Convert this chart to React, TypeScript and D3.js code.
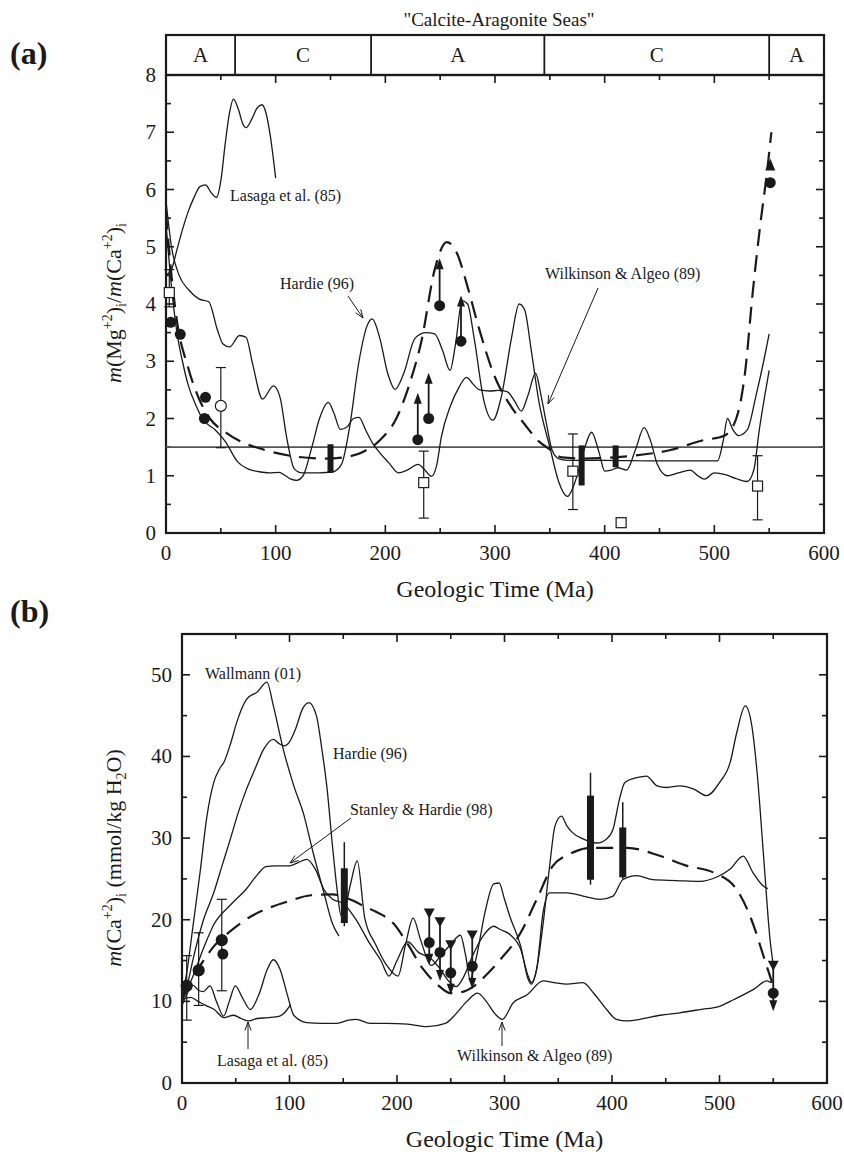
import React from "react";
import * as d3 from "d3";

// ---------- Panel (a): Mg/Ca ratio ----------
const seaBoundaries = [0, 63, 187, 345, 550, 600];
const seaLabels = ["A", "C", "A", "C", "A"];

const aLasaga: [number, number][] = [[0,4.5],[5,4.6],[10,4.95],[15,5.3],[20,5.6],[26,5.88],[31,6.05],[36,6.08],[41,5.95],[46,5.86],[50,6.15],[54,6.8],[58,7.35],[61.5,7.58],[66,7.4],[70,7.15],[73,7.08],[78,7.22],[83,7.42],[87.5,7.48],[91,7.35],[95,6.95],[100,6.2]];
const aHardie: [number, number][] = [[0,5.8],[5,5.0],[12,4.5],[21,4.24],[30,4.09],[39,4.04],[47,3.54],[52,3.3],[58,3.25],[67,3.45],[73,3.42],[79,2.95],[88,2.34],[98,2.57],[104,2.37],[110,1.67],[117,1.12],[124,1.05],[140,1.05],[152,1.07],[160,1.2],[167,1.8],[176,3.0],[183,3.6],[188,3.74],[195,3.4],[202,2.8],[209,2.51],[217,2.8],[227,3.4],[237,3.5],[245,3.48],[252,3.2],[259,2.84],[264,3.3],[270,4.06],[275,4.0],[281,3.4],[290,2.3],[298,1.97],[306,2.4],[315,3.4],[322,4.0],[327,3.9],[333,3.2],[340,2.3],[350,1.5],[358,0.9],[366,0.64],[374,0.95],[382,1.5],[388,1.76],[395,1.4],[400,1.08],[406,1.1],[412,1.14],[420,1.1],[428,1.45],[436,1.84],[442,1.6],[448,1.2],[457,1.0],[467,1.05],[478,1.1],[485,1.0],[491,0.94],[500,1.05],[510,1.02],[520,0.95],[530,0.9],[536,1.1],[541,1.8],[546,2.4],[550,2.84]];
const aWilkinson: [number, number][] = [[0,5.4],[5,4.3],[10,3.5],[15,3.0],[20,2.6],[28,2.2],[33,2.0],[45,1.8],[54,1.6],[65,1.25],[76,1.11],[85,1.07],[94,1.05],[103,1.06],[109,1.0],[114,0.94],[119,0.92],[125,1.0],[133,1.5],[140,2.0],[148,2.28],[153,2.1],[159,1.81],[165,1.85],[171,2.0],[176,2.02],[182,1.8],[188,1.58],[195,1.4],[203,1.23],[212,1.05],[220,1.1],[230,1.2],[236,1.1],[242,0.99],[247,1.2],[251,1.67],[259,2.2],[267,2.54],[274,2.72],[280,2.6],[286,2.5],[295,2.48],[303,2.49],[311,2.47],[318,2.3],[324,2.13],[330,2.4],[337,2.79],[342,2.4],[347,1.9],[352,1.45],[358,1.3],[366,1.27],[400,1.27],[450,1.26],[503,1.26],[508,1.6],[512,2.0],[517,1.8],[522,1.7],[530,1.8],[538,2.4],[545,3.0],[550,3.48]];
const aDashed: [number, number][] = [[0,5.6],[5,4.5],[10,3.7],[20,2.9],[30,2.35],[40,2.0],[55,1.75],[70,1.58],[85,1.48],[100,1.4],[120,1.33],[145,1.3],[165,1.33],[180,1.42],[195,1.62],[210,2.0],[222,2.6],[233,3.36],[245,4.6],[256,5.08],[265,4.9],[275,4.3],[285,3.6],[300,2.72],[315,2.2],[327,1.9],[340,1.6],[350,1.46],[361,1.32],[380,1.3],[420,1.34],[460,1.45],[490,1.62],[509,1.7],[520,2.0],[528,2.8],[535,4.2],[542,5.4],[548,6.3],[552,7.0]];
const aRefLevel = 1.5;

const aFilledCircles: [number, number][] = [[4.3,3.68],[13,3.47],[36,2.37],[35,2.0],[551,6.12]];
const aArrowCircles: [number, number, number][] = [[229.6,1.63,2.45],[239.5,2.0,2.8],[249.5,3.97,4.8],[269,3.35,4.15]];
const aUpTriangles: [number, number][] = [[551,6.42]];
const aOpenCircles: [number, number, number, number][] = [[50,2.22,1.49,2.89]];
const aOpenSquares: [number, number, number | null, number | null][] = [[3,4.2,3.95,4.6],[235,0.88,0.26,1.43],[371,1.08,0.41,1.73],[415,0.18,null,null],[539.4,0.82,0.23,1.35]];
const aBars: [number, number, number][] = [[150,1.05,1.55],[379,0.83,1.53],[410,1.15,1.53]];
const aYTicks = [0,1,2,3,4,5,6,7,8];

// ---------- Panel (b): Ca concentration ----------
const bWallmann: [number, number][] = [[0,10.5],[5,14],[10,19],[17,26],[23,32.5],[29.5,36.8],[35,38.5],[39,39.3],[45,41.5],[51,44.2],[56,46],[60,47],[70,47.9],[79,49.1],[85,46.2],[94,41],[104,36.4],[113,33],[122,28.2],[132,23.3],[140,19.5],[146,18]];
const bHardie: [number, number][] = [[0,10],[5,12],[10,15],[20,20],[29.5,23.3],[37,26.5],[45,29.9],[52,33],[60,36],[68,38.5],[76,40.9],[85,42.1],[90,41.6],[95,41.3],[100,41.8],[106,43.5],[112,45.8],[118,46.6],[125,45],[130,41],[135,36],[140,29],[144,24],[148,20.5],[152,21.5],[157,24.5],[163,27.2],[170,20.2],[180,17],[190,14.5],[201,13.1],[208,17],[215,20.2],[222,17.5],[232,14.4],[240,15.5],[250,17],[259,18.1],[264,15.5],[268,12.7],[274,15.5],[282,21],[290,24.4],[295,24.5],[300,22.5],[305,20.4],[315,16.8],[322,12.7],[325,12.1],[330,14],[336,19.6],[342,26.6],[347,31.5],[353,32.7],[358,31.5],[363,30.7],[373,29.9],[386,29.4],[395,29.9],[401,31.1],[407,34.8],[412,36.8],[423,37.4],[432,37.6],[442,36.4],[451,36.2],[463,36.4],[476,36],[488,35.2],[500,36.8],[510,39.3],[516,42.9],[524,46.2],[530,43.8],[535,38],[541,27.8],[547,17.6],[550,14.5]];
const bStanley: [number, number][] = [[0,10],[5,11.5],[10,13],[20,16.5],[30,19.5],[45,21.8],[60,23.8],[70,25.5],[78,26.5],[87,26.6],[100,26.6],[108,27],[116,27.4],[124,26.2],[132,23.7],[140,22.5],[150,22],[161,20.2],[175,17],[185,15],[192.6,13.1],[200,15],[210,17.3],[220,16],[232,15.2],[240,14],[248,12.5],[255,11.8],[262,13],[270,15.5],[280,18],[290,19.2],[296,18.8],[305,18.2],[315,16.4],[322,13.1],[325,12.3],[330,14],[336,21],[342,23.3],[358,23.3],[373,22.9],[389,22.5],[401,22.9],[410,24.9],[423,25.4],[438,24.9],[460,24.8],[482,24.7],[497,25.2],[510,26.2],[522,27.8],[531,25.8],[541,24.1],[545,23.8]];
const bLasaga: [number, number][] = [[0,10.2],[8,10.5],[15,10],[22,9.5],[30,9.0],[39,8.0],[48,8.3],[55,7.9],[62,7.6],[70,7.9],[80,8.0],[91,8.2],[96,8.7],[101,9.6]];
const bWilkinson: [number, number][] = [[0,9.5],[5,11],[10,12],[15,11.4],[20,11.2],[26,11.9],[32,10],[38.7,8.2],[44,10],[49.6,11.9],[56,10.5],[63.5,9],[72,11],[79,13.8],[85,15.1],[91,14],[98,10.8],[104,8.3],[116,7.4],[130,7.3],[144,7.3],[155,7.7],[162,7.8],[175,7.3],[190,7.3],[210,7.2],[228,6.9],[245,7.3],[255,8.5],[265,10],[275,11],[283,10],[291,8.5],[298,7.8],[308,9.8],[321,10.8],[336,12.5],[346,12.3],[358,12.1],[373,12.3],[383,11],[395,9],[404,7.8],[414,7.6],[426,7.8],[445,8.3],[463,8.6],[482,9],[500,9.4],[513,10.2],[532,11.5],[544,12.5],[548,12.3]];
const bDashed: [number, number][] = [[0,10.5],[10,13],[20,15],[30,16.8],[45,18.6],[64,20.4],[80,21.4],[100,22.3],[120,23],[140,23.1],[150,22.8],[160,22.3],[170,21.6],[180,21],[197,19.5],[210,17],[224,14],[238,12],[250,11],[262,11.2],[272,11.9],[285,13.5],[296,15.1],[315,18.4],[330,22.5],[345,26.6],[360,28],[380,28.8],[414,28.8],[445,27.8],[470,26.6],[494,25.8],[516,23.7],[532,19.2],[541,15.5],[549,12.3]];

const bErrCircles: [number, number, number, number][] = [[4.4,11.9,7.7,15.6],[15.5,13.8,9.5,18.4],[37,17.5,11.3,22.5]];
const bExtraCircles: [number, number][] = [[38,15.8]];
const bTriArrows: [number, number, number, number][] = [[230,20.9,17.2,14.5],[240,19.8,16,12.5],[250,17,13.5,10.8],[270,18.2,14.3,11.5],[550,14.5,11,8.8]];
const bBars: [number, number, number, number, number][] = [[151,19.2,29.5,19.6,26.3],[380,24.3,38,24.9,35.2],[410,25,34.4,25.2,31.3]];
const bYTicks = [0,10,20,30,40,50];
const xTicks = [0,100,200,300,400,500,600];

const FONT = "Liberation Serif, serif";
const INK = "#1a1a1a";

type Scale = d3.ScaleLinear<number, number>;

function Frame({ x, y, yMinor, yTicks }: { x: Scale; y: Scale; yMinor: number; yTicks: number[] }) {
  const [l, r] = x.range();
  const [b, t] = y.range();
  const xMinor = d3.range(0, 601, 50);
  const yDom = y.domain();
  const yMinorVals = d3.range(yDom[0], yDom[1] + 0.0001, yMinor);
  return (
    <g>
      <rect x={l} y={t} width={r - l} height={b - t} fill="none" stroke={INK} strokeWidth={2.2} />
      {xMinor.map((v) => {
        const major = v % 100 === 0;
        const len = major ? 8 : 5;
        return (
          <g key={"xt" + v}>
            <line x1={x(v)} x2={x(v)} y1={b} y2={b - len} stroke={INK} strokeWidth={1.6} />
            <line x1={x(v)} x2={x(v)} y1={t} y2={t + len} stroke={INK} strokeWidth={1.6} />
          </g>
        );
      })}
      {yMinorVals.map((v, i) => {
        const major = yTicks.some((m) => Math.abs(m - v) < 1e-6);
        const len = major ? 8 : 5;
        return (
          <g key={"yt" + i}>
            <line x1={l} x2={l + len} y1={y(v)} y2={y(v)} stroke={INK} strokeWidth={1.6} />
            <line x1={r} x2={r - len} y1={y(v)} y2={y(v)} stroke={INK} strokeWidth={1.6} />
          </g>
        );
      })}
      {xTicks.map((v) => (
        <text key={"xl" + v} x={x(v)} y={b + 27} textAnchor="middle" fontSize={21} fontFamily={FONT} fill={INK}>
          {v}
        </text>
      ))}
      {yTicks.map((v) => (
        <text key={"yl" + v} x={l - 10} y={y(v) + 7} textAnchor="end" fontSize={21} fontFamily={FONT} fill={INK}>
          {v}
        </text>
      ))}
      <text x={(l + r) / 2} y={b + 64} textAnchor="middle" fontSize={24} fontFamily={FONT} fill={INK}>
        Geologic Time (Ma)
      </text>
    </g>
  );
}

function Curve({ data, x, y, dashed }: { data: [number, number][]; x: Scale; y: Scale; dashed?: boolean }) {
  const gen = d3
    .line<[number, number]>()
    .x((d) => x(d[0]))
    .y((d) => y(d[1]))
    .curve(d3.curveMonotoneX);
  return (
    <path
      d={gen(data) || ""}
      fill="none"
      stroke={INK}
      strokeWidth={dashed ? 2.2 : 1.3}
      strokeDasharray={dashed ? "17,9" : undefined}
      strokeLinejoin="round"
    />
  );
}

function Annot({ tx, ty, text, ax1, ay1, ax2, ay2 }: { tx: number; ty: number; text: string; ax1?: number; ay1?: number; ax2?: number; ay2?: number }) {
  let arrow = null;
  if (ax1 !== undefined && ay1 !== undefined && ax2 !== undefined && ay2 !== undefined) {
    const ang = Math.atan2(ay2 - ay1, ax2 - ax1);
    const h = 9;
    const s = 0.35;
    const p1 = [ax2 - h * Math.cos(ang - s), ay2 - h * Math.sin(ang - s)];
    const p2 = [ax2 - h * Math.cos(ang + s), ay2 - h * Math.sin(ang + s)];
    arrow = (
      <g stroke={INK} strokeWidth={1} fill="none">
        <line x1={ax1} y1={ay1} x2={ax2} y2={ay2} />
        <polyline points={`${p1[0]},${p1[1]} ${ax2},${ay2} ${p2[0]},${p2[1]}`} />
      </g>
    );
  }
  return (
    <g>
      <text x={tx} y={ty} fontSize={16} fontFamily={FONT} fill={INK}>
        {text}
      </text>
      {arrow}
    </g>
  );
}

export default function App() {
  const xA = d3.scaleLinear().domain([0, 600]).range([166, 824]);
  const yA = d3.scaleLinear().domain([0, 8]).range([533, 75]);
  const xB = d3.scaleLinear().domain([0, 600]).range([182, 827]);
  const yB = d3.scaleLinear().domain([0, 55]).range([1083, 634]);
  const bandTop = 35;
  const bandBot = 75;

  return (
    <svg
      width={844}
      height={1156}
      viewBox="0 0 844 1156"
      style={{ position: "absolute", left: 0, top: 0, background: "#fff" }}
    >
      <rect x={0} y={0} width={844} height={1156} fill="#fff" />

      {/* ---------------- Panel (a) ---------------- */}
      <text x={10} y={64} fontSize={32} fontWeight="bold" fontFamily={FONT} fill={INK}>(a)</text>
      <text x={499} y={26} textAnchor="middle" fontSize={19} fontFamily={FONT} fill={INK}>"Calcite-Aragonite Seas"</text>
      <rect x={xA(0)} y={bandTop} width={xA(600) - xA(0)} height={bandBot - bandTop} fill="none" stroke={INK} strokeWidth={2.2} />
      {seaBoundaries.slice(1, -1).map((v) => (
        <line key={"sb" + v} x1={xA(v)} x2={xA(v)} y1={bandTop} y2={bandBot} stroke={INK} strokeWidth={1.8} />
      ))}
      {seaLabels.map((lab, i) => (
        <text key={"sl" + i} x={(xA(seaBoundaries[i]) + xA(seaBoundaries[i + 1])) / 2} y={62} textAnchor="middle" fontSize={21} fontFamily={FONT} fill={INK}>
          {lab}
        </text>
      ))}

      <Frame x={xA} y={yA} yMinor={0.5} yTicks={aYTicks} />

      <line x1={xA(0)} x2={xA(600)} y1={yA(aRefLevel)} y2={yA(aRefLevel)} stroke="#555" strokeWidth={1.6} />
      <Curve data={aLasaga} x={xA} y={yA} />
      <Curve data={aHardie} x={xA} y={yA} />
      <Curve data={aWilkinson} x={xA} y={yA} />
      <Curve data={aDashed} x={xA} y={yA} dashed />

      {aBars.map(([m, lo, hi], i) => (
        <rect key={"ab" + i} x={xA(m) - 3} y={yA(hi)} width={6} height={yA(lo) - yA(hi)} fill={INK} />
      ))}
      {aOpenCircles.map(([m, v, lo, hi], i) => (
        <g key={"aoc" + i} stroke={INK} strokeWidth={1.2}>
          <line x1={xA(m)} x2={xA(m)} y1={yA(hi)} y2={yA(lo)} />
          <line x1={xA(m) - 5} x2={xA(m) + 5} y1={yA(hi)} y2={yA(hi)} />
          <line x1={xA(m) - 5} x2={xA(m) + 5} y1={yA(lo)} y2={yA(lo)} />
          <circle cx={xA(m)} cy={yA(v)} r={5.5} fill="#fff" />
        </g>
      ))}
      {aOpenSquares.map(([m, v, lo, hi], i) => (
        <g key={"aos" + i} stroke={INK} strokeWidth={1.2}>
          {lo !== null && hi !== null && (
            <g>
              <line x1={xA(m)} x2={xA(m)} y1={yA(hi)} y2={yA(lo)} />
              <line x1={xA(m) - 5} x2={xA(m) + 5} y1={yA(hi)} y2={yA(hi)} />
              <line x1={xA(m) - 5} x2={xA(m) + 5} y1={yA(lo)} y2={yA(lo)} />
            </g>
          )}
          <rect x={xA(m) - 5} y={yA(v) - 5} width={10} height={10} fill="#fff" />
        </g>
      ))}
      {aArrowCircles.map(([m, v, top], i) => (
        <g key={"aac" + i}>
          <line x1={xA(m)} x2={xA(m)} y1={yA(v)} y2={yA(top) + 8} stroke={INK} strokeWidth={1.8} />
          <path d={`M${xA(m)},${yA(top)} L${xA(m) - 4},${yA(top) + 11} L${xA(m) + 4},${yA(top) + 11} Z`} fill={INK} />
          <circle cx={xA(m)} cy={yA(v)} r={5.5} fill={INK} />
        </g>
      ))}
      {aUpTriangles.map(([m, v], i) => (
        <path key={"aut" + i} d={`M${xA(m)},${yA(v) - 7} L${xA(m) - 5},${yA(v) + 5} L${xA(m) + 5},${yA(v) + 5} Z`} fill={INK} />
      ))}
      {aFilledCircles.map(([m, v], i) => (
        <circle key={"afc" + i} cx={xA(m)} cy={yA(v)} r={5.5} fill={INK} />
      ))}

      <Annot tx={230} ty={201} text="Lasaga et al. (85)" />
      <Annot tx={280} ty={289} text="Hardie (96)" ax1={348} ay1={296} ax2={363} ay2={318} />
      <Annot tx={545} ty={279} text="Wilkinson & Algeo (89)" ax1={598} ay1={288} ax2={548} ay2={404} />

      <text transform="translate(121,303) rotate(-90)" textAnchor="middle" fontSize={22} fontFamily={FONT} fill={INK}>
        <tspan fontStyle="italic">m</tspan>
        <tspan>(Mg</tspan>
        <tspan dy={-9} fontSize={14}>+2</tspan>
        <tspan dy={9}>)</tspan>
        <tspan dy={5} fontSize={14}>i</tspan>
        <tspan dy={-5}>/</tspan>
        <tspan fontStyle="italic">m</tspan>
        <tspan>(Ca</tspan>
        <tspan dy={-9} fontSize={14}>+2</tspan>
        <tspan dy={9}>)</tspan>
        <tspan dy={5} fontSize={14}>i</tspan>
      </text>

      {/* ---------------- Panel (b) ---------------- */}
      <text x={10} y={622} fontSize={32} fontWeight="bold" fontFamily={FONT} fill={INK}>(b)</text>
      <Frame x={xB} y={yB} yMinor={5} yTicks={bYTicks} />

      <Curve data={bWallmann} x={xB} y={yB} />
      <Curve data={bHardie} x={xB} y={yB} />
      <Curve data={bStanley} x={xB} y={yB} />
      <Curve data={bLasaga} x={xB} y={yB} />
      <Curve data={bWilkinson} x={xB} y={yB} />
      <Curve data={bDashed} x={xB} y={yB} dashed />

      {bBars.map(([m, tlo, thi, klo, khi], i) => (
        <g key={"bb" + i}>
          <line x1={xB(m)} x2={xB(m)} y1={yB(thi)} y2={yB(tlo)} stroke={INK} strokeWidth={1.5} />
          <rect x={xB(m) - 3.5} y={yB(khi)} width={7} height={yB(klo) - yB(khi)} fill={INK} />
        </g>
      ))}
      {bErrCircles.map(([m, v, lo, hi], i) => (
        <g key={"bec" + i} stroke={INK} strokeWidth={1.2}>
          <line x1={xB(m)} x2={xB(m)} y1={yB(hi)} y2={yB(lo)} />
          <line x1={xB(m) - 5} x2={xB(m) + 5} y1={yB(hi)} y2={yB(hi)} />
          <line x1={xB(m) - 5} x2={xB(m) + 5} y1={yB(lo)} y2={yB(lo)} />
          <circle cx={xB(m)} cy={yB(v)} r={5.5} fill={INK} />
        </g>
      ))}
      {bExtraCircles.map(([m, v], i) => (
        <circle key={"bxc" + i} cx={xB(m)} cy={yB(v)} r={5.5} fill={INK} />
      ))}
      {bTriArrows.map(([m, hi, mid, lo], i) => (
        <g key={"bta" + i}>
          <line x1={xB(m)} x2={xB(m)} y1={yB(hi)} y2={yB(lo) - 6} stroke={INK} strokeWidth={1.8} />
          <path d={`M${xB(m) - 5.5},${yB(hi) - 4} L${xB(m) + 5.5},${yB(hi) - 4} L${xB(m)},${yB(hi) + 6} Z`} fill={INK} />
          <path d={`M${xB(m)},${yB(lo)} L${xB(m) - 4},${yB(lo) - 11} L${xB(m) + 4},${yB(lo) - 11} Z`} fill={INK} />
          <circle cx={xB(m)} cy={yB(mid)} r={5.5} fill={INK} />
        </g>
      ))}

      <Annot tx={205} ty={679} text="Wallmann (01)" />
      <Annot tx={333} ty={759} text="Hardie (96)" />
      <Annot tx={350} ty={815} text="Stanley & Hardie (98)" ax1={351} ay1={818} ax2={290} ay2={863} />
      <Annot tx={217} ty={1066} text="Lasaga et al. (85)" ax1={248} ay1={1049} ax2={248} ay2={1022} />
      <Annot tx={457} ty={1061} text="Wilkinson & Algeo (89)" ax1={502} ay1={1046} ax2={502} ay2={1022} />

      <text transform="translate(121,858) rotate(-90)" textAnchor="middle" fontSize={22} fontFamily={FONT} fill={INK}>
        <tspan fontStyle="italic">m</tspan>
        <tspan>(Ca</tspan>
        <tspan dy={-9} fontSize={14}>+2</tspan>
        <tspan dy={9}>)</tspan>
        <tspan dy={5} fontSize={14}>i</tspan>
        <tspan dy={-5}> (mmol/kg H</tspan>
        <tspan dy={5} fontSize={14}>2</tspan>
        <tspan dy={-5}>O)</tspan>
      </text>
    </svg>
  );
}
